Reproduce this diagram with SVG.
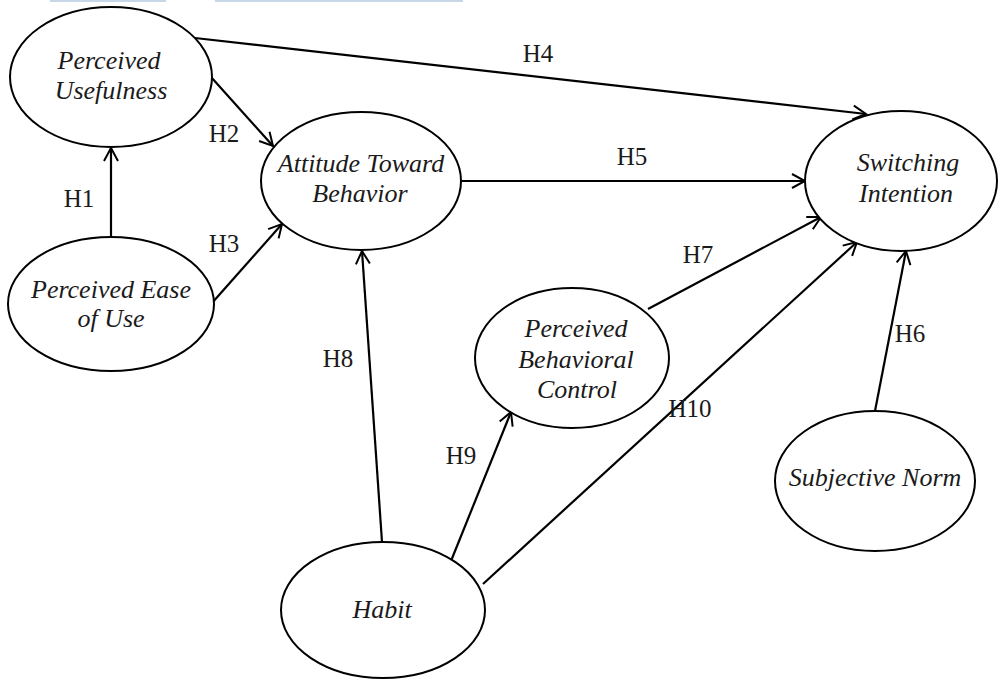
<svg xmlns="http://www.w3.org/2000/svg" width="998" height="679" viewBox="0 0 998 679">
<style>
.node{fill:#fff;stroke:#000;stroke-width:2}
.nt{font-style:italic;font-size:26px;fill:#1a1a1a;text-anchor:middle}
.lb{font-size:25px;fill:#1a1a1a;text-anchor:middle}
.edge{stroke:#000;stroke-width:2.2;fill:none;marker-end:url(#arr)}
</style>
<defs>
<marker id="arr" viewBox="-15 -9 17 18" refX="0" refY="0" markerWidth="17" markerHeight="18" markerUnits="userSpaceOnUse" orient="auto">
<path d="M-13,-7 L0,0 L-13,7" fill="none" stroke="#000" stroke-width="2"/>
</marker>
</defs>
<rect width="998" height="679" fill="#fff"/>
<g id="topbars">
<rect x="50" y="0" width="116" height="2" fill="#c8d7e8"/>
<rect x="215" y="0" width="248" height="2" fill="#c8d7e8"/>
</g>
<g font-family="Liberation Serif, Tinos, Times New Roman, Nimbus Roman, FreeSerif, Noto Serif, DejaVu Serif, serif">
<g id="connectors">
<line class="edge" x1="111" y1="237" x2="111" y2="148"/>
<line class="edge" x1="211" y1="77" x2="273" y2="146"/>
<line class="edge" x1="212" y1="303" x2="282" y2="224"/>
<line class="edge" x1="195" y1="38" x2="866" y2="114"/>
<line class="edge" x1="462" y1="181" x2="805" y2="181"/>
<line class="edge" x1="875" y1="411" x2="906" y2="251"/>
<line class="edge" x1="648" y1="309" x2="821" y2="217"/>
<line class="edge" x1="382" y1="542" x2="362" y2="251"/>
<line class="edge" x1="451" y1="561" x2="511" y2="412"/>
<line class="edge" x1="483" y1="584" x2="857" y2="242"/>
<text class="lb" x="79" y="207">H1</text>
<text class="lb" x="224" y="142">H2</text>
<text class="lb" x="224" y="252">H3</text>
<text class="lb" x="538" y="62">H4</text>
<text class="lb" x="632" y="165">H5</text>
<text class="lb" x="910" y="342">H6</text>
<text class="lb" x="698" y="263">H7</text>
<text class="lb" x="338" y="367">H8</text>
<text class="lb" x="461" y="464">H9</text>
<text class="lb" x="690" y="417">H10</text>
</g>
<g id="perceived-usefulness">
<ellipse class="node" cx="111" cy="77" rx="101" ry="70"/>
<text class="nt" x="109" y="69">Perceived</text>
<text class="nt" x="111" y="99">Usefulness</text>
</g>
<g id="perceived-ease-of-use">
<ellipse class="node" cx="111" cy="304" rx="103" ry="67"/>
<text class="nt" x="111" y="298">Perceived Ease</text>
<text class="nt" x="111" y="327">of Use</text>
</g>
<g id="attitude-toward-behavior">
<ellipse class="node" cx="361" cy="181" rx="100" ry="69"/>
<text class="nt" x="361" y="172">Attitude Toward</text>
<text class="nt" x="360" y="202">Behavior</text>
</g>
<g id="switching-intention">
<ellipse class="node" cx="901" cy="181" rx="96" ry="70"/>
<text class="nt" x="908" y="171">Switching</text>
<text class="nt" x="906" y="202">Intention</text>
</g>
<g id="perceived-behavioral-control">
<ellipse class="node" cx="572" cy="358" rx="97" ry="70"/>
<text class="nt" x="576" y="337">Perceived</text>
<text class="nt" x="576" y="368">Behavioral</text>
<text class="nt" x="577" y="398">Control</text>
</g>
<g id="subjective-norm">
<ellipse class="node" cx="875" cy="481" rx="100" ry="70"/>
<text class="nt" x="875" y="486">Subjective Norm</text>
</g>
<g id="habit">
<ellipse class="node" cx="383" cy="610" rx="102" ry="68"/>
<text class="nt" x="382" y="618">Habit</text>
</g>
</g>
</svg>
